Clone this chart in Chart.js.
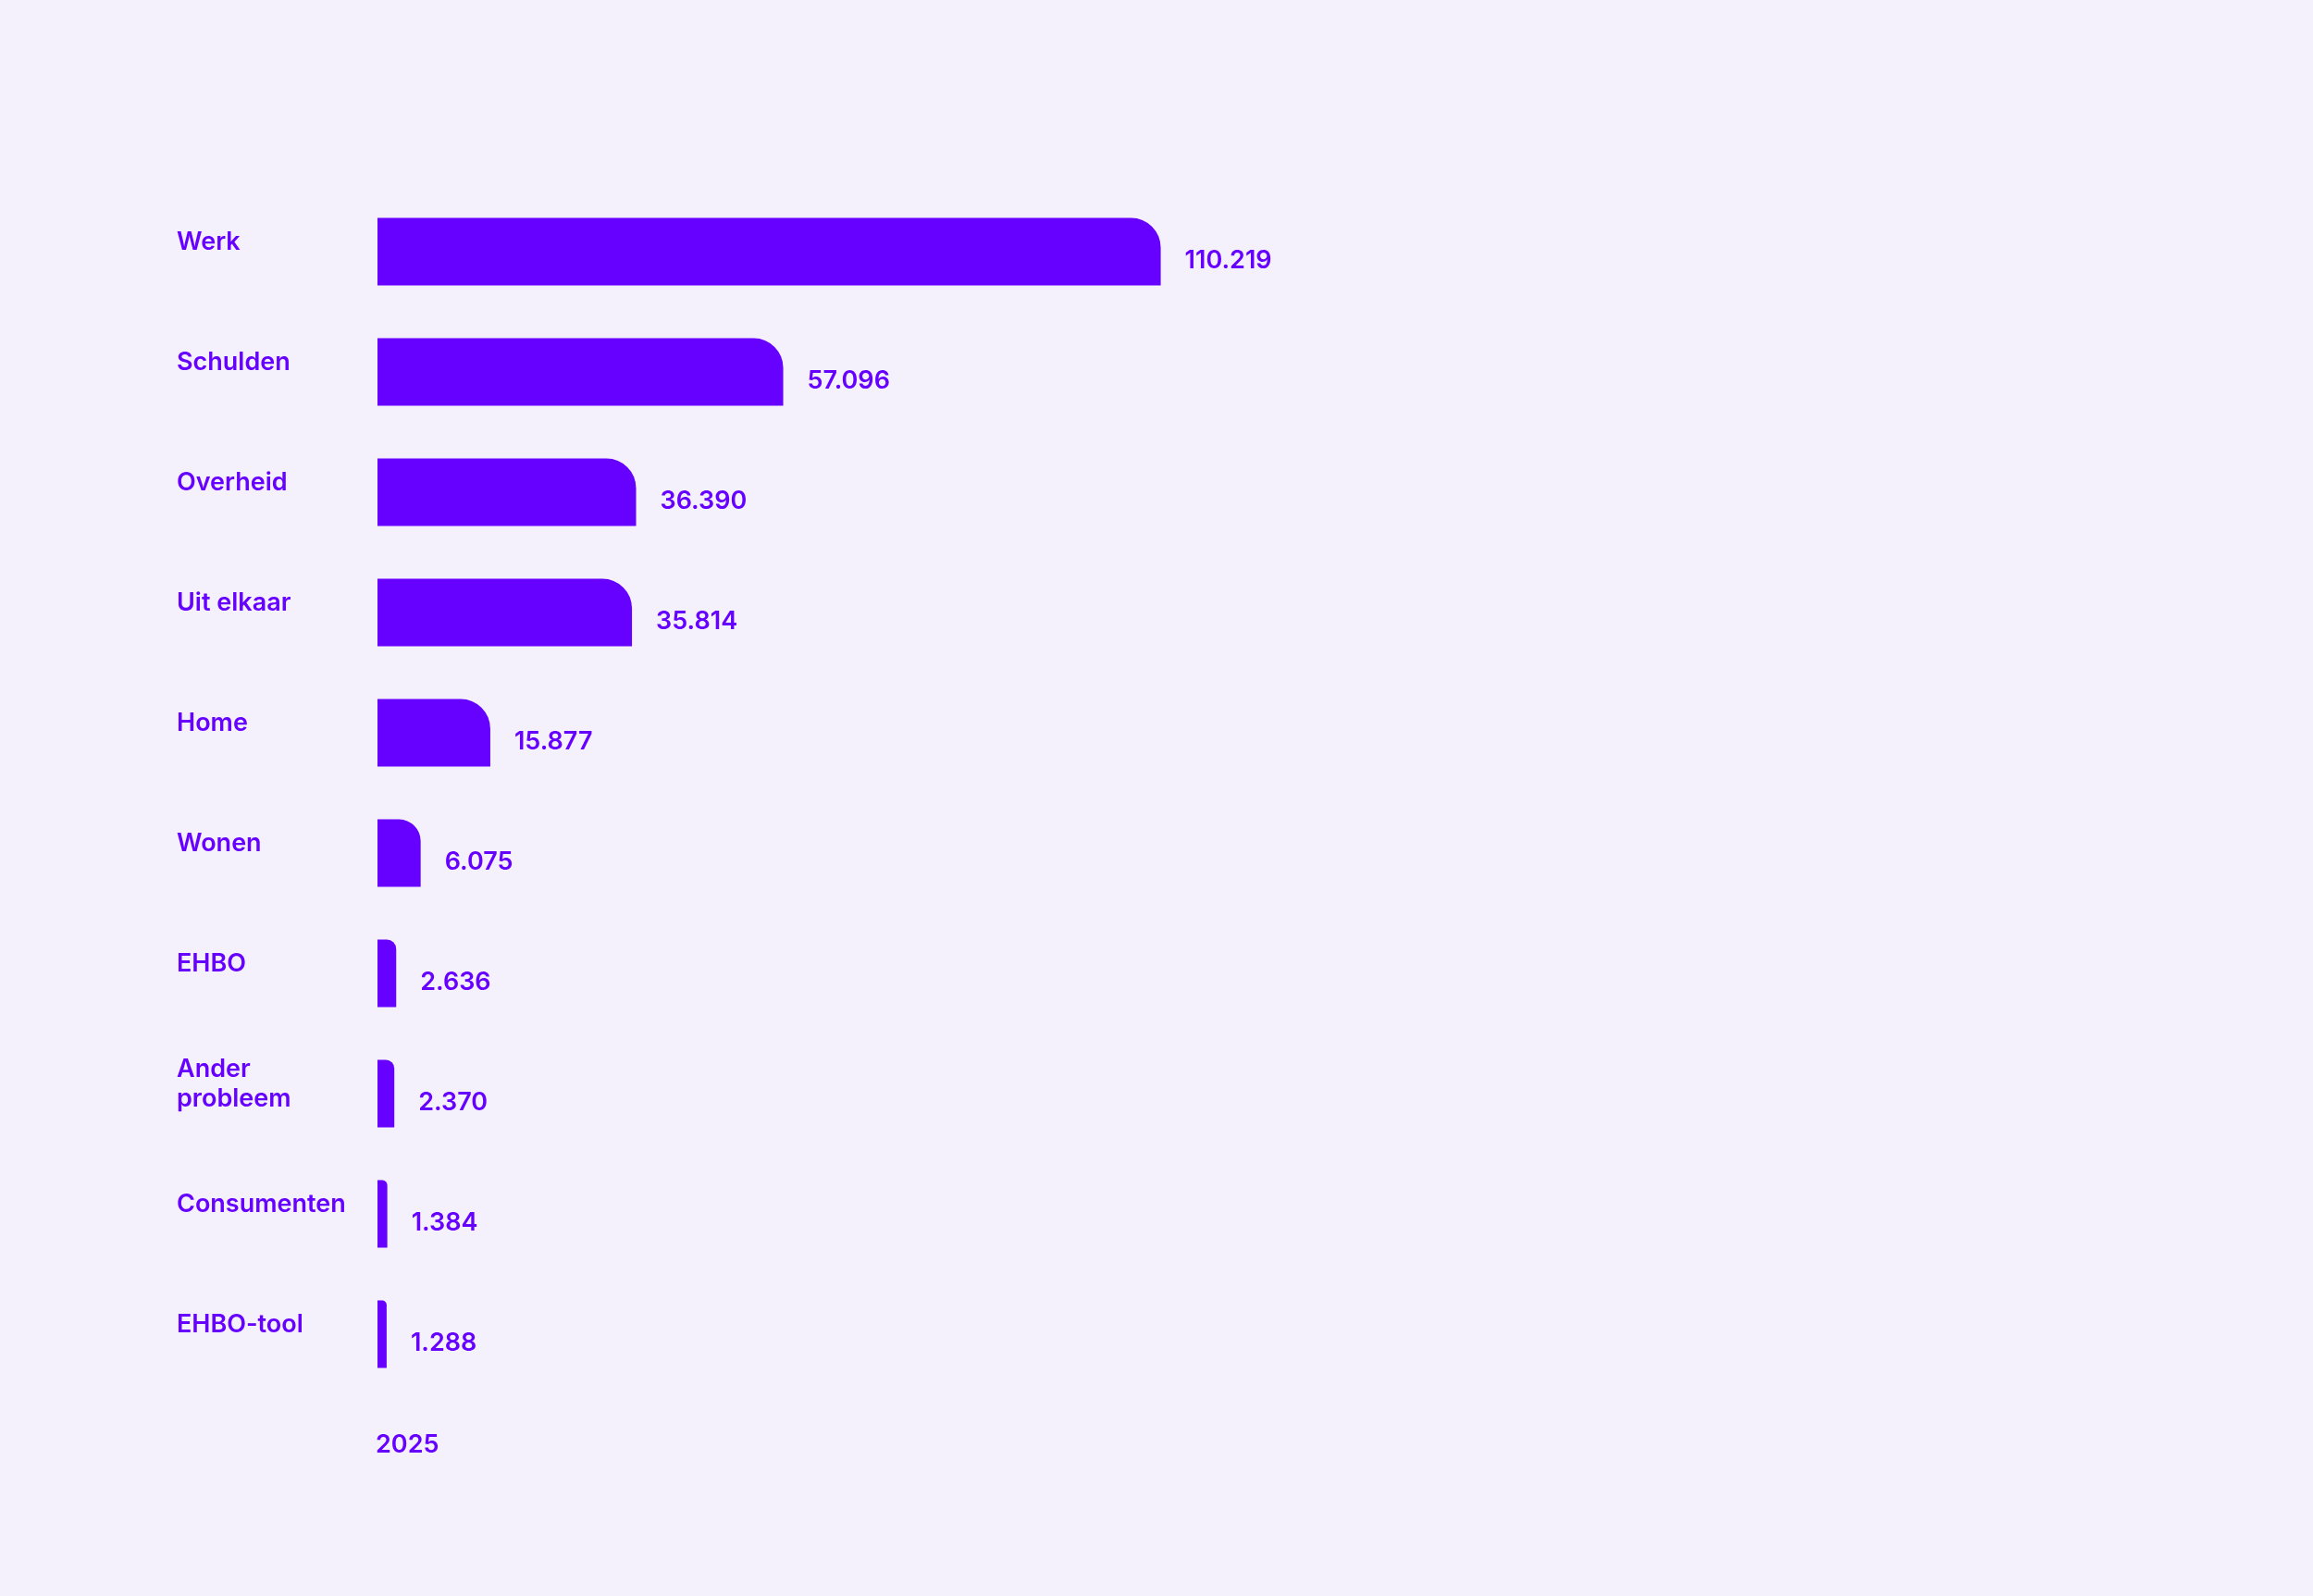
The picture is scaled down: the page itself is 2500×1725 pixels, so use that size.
<!DOCTYPE html>
<html>
<head>
<meta charset="utf-8">
<script src="https://cdn.jsdelivr.net/npm/chart.js@4/dist/chart.umd.min.js"></script>
<style>
  html, body { margin: 0; padding: 0; background: #f4f1fd; }
  #wrap { width: 2500px; height: 1725px; }
</style>
</head>
<body>
<div id="wrap"><canvas id="topics-chart"></canvas></div>
<script>
var categories = ['Werk', 'Schulden', 'Overheid', 'Uit elkaar', 'Home', 'Wonen', 'EHBO', ['Ander', 'probleem'], 'Consumenten', 'EHBO-tool'];
var values2025 = [110219, 57096, 36390, 35814, 15877, 6075, 2636, 2370, 1384, 1288];
var valueLabels = ['110.219', '57.096', '36.390', '35.814', '15.877', '6.075', '2.636', '2.370', '1.384', '1.288'];
var yearLabel = '2025';

var purple = '#6600ff';
var fontFamily = 'Inter, "Noto Sans", sans-serif';

// value labels next to each bar + year under the bars
var valueLabelPlugin = {
    id: 'valueLabels',
    afterDatasetsDraw: function (chart) {
        var ctx = chart.ctx;
        var meta = chart.getDatasetMeta(0);
        ctx.save();
        ctx.fillStyle = purple;
        ctx.font = '600 27px ' + fontFamily;
        ctx.textBaseline = 'middle';
        ctx.textAlign = 'left';
        meta.data.forEach(function (bar, i) {
            ctx.fillText(valueLabels[i], bar.x + 26, bar.y + 10);
        });
        ctx.fillText(yearLabel, chart.chartArea.left - 2, chart.chartArea.bottom + 55);
        ctx.restore();
    }
};

new Chart(document.getElementById('topics-chart'), {
    type: 'bar',
    data: {
        labels: categories,
        datasets: [{
            data: values2025,
            backgroundColor: purple,
            borderRadius: { topLeft: 0, topRight: 32, bottomLeft: 0, bottomRight: 0 },
            borderSkipped: 'start',
            barPercentage: 0.56,
            categoryPercentage: 1
        }]
    },
    options: {
        indexAxis: 'y',
        responsive: true,
        maintainAspectRatio: false,
        animation: false,
        layout: { padding: { left: 191, right: 95, top: 207, bottom: 218 } },
        scales: {
            x: { display: false, min: 0, max: 260000 },
            y: {
                grid: { display: false },
                border: { display: false },
                afterFit: function (scale) { scale.width = 217; },
                ticks: {
                    color: purple,
                    crossAlign: 'far',
                    padding: 0,
                    labelOffset: -10,
                    font: { family: fontFamily, size: 27, weight: '600' }
                }
            }
        },
        plugins: {
            legend: { display: false },
            tooltip: { enabled: false }
        }
    },
    plugins: [valueLabelPlugin]
});
</script>
</body>
</html>
